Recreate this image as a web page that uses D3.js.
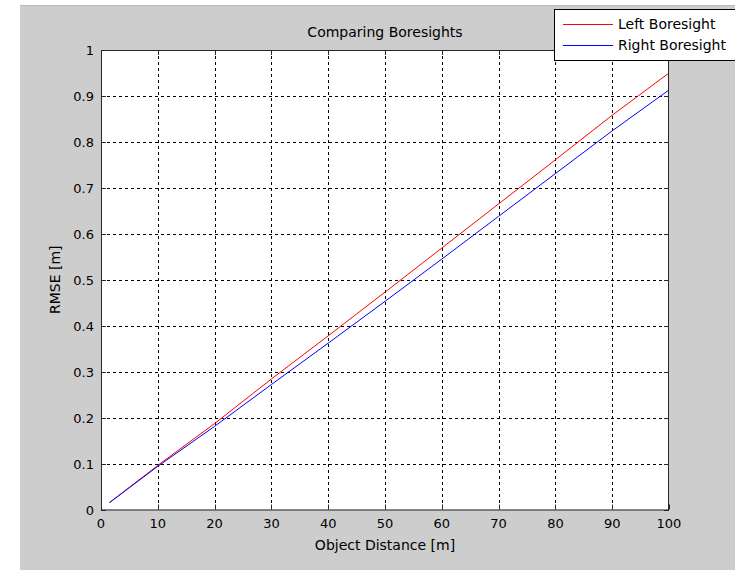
<!DOCTYPE html>
<html><head><meta charset="utf-8">
<script src="https://cdn.jsdelivr.net/npm/d3@7"></script>
<style>body{margin:0;background:#fff}svg{display:block}text{font-family:"DejaVu Sans","Liberation Sans",sans-serif}</style>
</head><body>
<script>
const distances = [1.5, 10, 20, 30, 40, 50, 60, 70, 80, 90, 100];
const leftRmse  = [0.015, 0.096, 0.187, 0.284, 0.378, 0.473, 0.569, 0.665, 0.761, 0.858, 0.950];
const rightRmse = [0.015, 0.094, 0.181, 0.272, 0.362, 0.453, 0.545, 0.638, 0.731, 0.824, 0.913];
const xTicks = [0,10,20,30,40,50,60,70,80,90,100];
const yTicks = [0,0.1,0.2,0.3,0.4,0.5,0.6,0.7,0.8,0.9,1];
const seriesNames = ["Left Boresight","Right Boresight"];
const seriesColors = ["#ff0000","#0000ff"];

const W=735,H=570;
const svg=d3.select("body").append("svg").attr("width",W).attr("height",H);
svg.append("rect").attr("x",20).attr("y",5).attr("width",W-20).attr("height",H-5).attr("fill","#cdcdcd");
svg.append("line").attr("x1",20).attr("x2",W).attr("y1",5.5).attr("y2",5.5).attr("stroke","#b8b8b8");

const L=101,R=669,T=50,B=509.5;
const x=d3.scaleLinear().domain([0,100]).range([L,R]);
const y=d3.scaleLinear().domain([0,1]).range([B,T]);

svg.append("rect").attr("x",L).attr("y",T).attr("width",R-L).attr("height",B-T).attr("fill","#fff");

// grid
const g=svg.append("g");
g.selectAll(".vg").data(xTicks.slice(1,-1)).join("line")
 .attr("x1",d=>Math.round(x(d))+0.5).attr("x2",d=>Math.round(x(d))+0.5).attr("y1",T).attr("y2",B)
 .attr("stroke","#000").attr("stroke-dasharray","3,3");
g.selectAll(".hg").data(yTicks.slice(1,-1)).join("line")
 .attr("y1",d=>Math.round(y(d))+0.5).attr("y2",d=>Math.round(y(d))+0.5).attr("x1",L).attr("x2",R)
 .attr("stroke","#000").attr("stroke-dasharray","3,3");

// lines
const line=d3.line().x((d,i)=>x(distances[i])).y(d=>y(d));
[leftRmse,rightRmse].forEach((s,k)=>{
  svg.append("path").datum(s).attr("d",line).attr("fill","none").attr("stroke",seriesColors[k]).attr("stroke-width",1);
});

// axes box
const ax=svg.append("g").attr("fill","none").attr("stroke","#262626");
ax.append("rect").attr("x",L+0.5).attr("y",T+0.5).attr("width",R-L-1).attr("height",B-T).attr("stroke-width",1);
const tl=5;
xTicks.forEach(d=>{const px=Math.round(x(d))+0.5;
  ax.append("line").attr("x1",px).attr("x2",px).attr("y1",B).attr("y2",B-tl);
  ax.append("line").attr("x1",px).attr("x2",px).attr("y1",T).attr("y2",T+tl);});
yTicks.forEach(d=>{const py=Math.round(y(d))+0.5;
  ax.append("line").attr("y1",py).attr("y2",py).attr("x1",L).attr("x2",L+tl);
  ax.append("line").attr("y1",py).attr("y2",py).attr("x1",R).attr("x2",R-tl);});

// tick labels
svg.selectAll(".xl").data(xTicks).join("text").attr("x",d=>x(d)).attr("y",B+18)
 .attr("text-anchor","middle").attr("font-size",13).attr("fill","#000").text(d=>d);
svg.selectAll(".yl").data(yTicks).join("text").attr("x",L-7).attr("y",d=>y(d)+5)
 .attr("text-anchor","end").attr("font-size",13).attr("fill","#000").text(d=>d);

svg.append("text").attr("x",(L+R)/2).attr("y",37).attr("text-anchor","middle").attr("font-size",14).text("Comparing Boresights");
svg.append("text").attr("x",(L+R)/2).attr("y",550).attr("text-anchor","middle").attr("font-size",14).text("Object Distance [m]");
svg.append("text").attr("transform",`translate(60,${(T+B)/2}) rotate(-90)`).attr("text-anchor","middle").attr("font-size",14).text("RMSE [m]");

// legend
const lg=svg.append("g");
lg.append("rect").attr("x",554.5).attr("y",9.5).attr("width",200).attr("height",51).attr("fill","#fff").attr("stroke","#000");
seriesNames.forEach((n,i)=>{
  const ly=24+i*21;
  lg.append("line").attr("x1",563).attr("x2",613).attr("y1",ly+0.5).attr("y2",ly+0.5).attr("stroke",seriesColors[i]);
  lg.append("text").attr("x",618).attr("y",ly+5).attr("font-size",14).attr("fill","#000").text(n);
});
</script>
</body></html>
